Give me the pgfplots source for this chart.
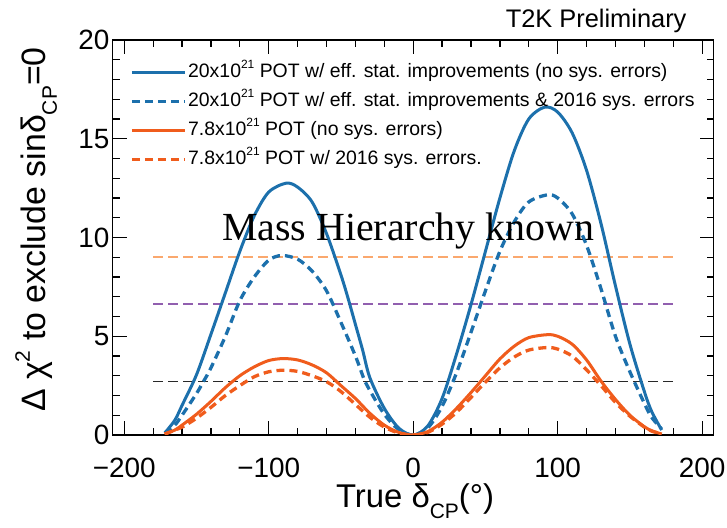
\documentclass[border=0pt]{standalone}
\usepackage{fontspec}
\setmainfont{Liberation Sans}
\newfontfamily\timesfont{Liberation Serif}
\usepackage{pgfplots}
\pgfplotsset{compat=1.18}
\definecolor{tblue}{RGB}{28,112,172}
\definecolor{torange}{RGB}{240,92,28}
\definecolor{lorange}{RGB}{250,168,110}
\definecolor{tpurple}{RGB}{145,95,175}
\definecolor{tgray}{RGB}{40,40,40}
\begin{document}
\begin{tikzpicture}
\path[use as bounding box] (0,0) rectangle (727bp,528bp);
\begin{axis}[
  at={(112.7bp,93bp)}, anchor=south west,
  scale only axis, width=601bp, height=395bp,
  xmin=-208, xmax=208, ymin=0, ymax=20,
  xtick={-200,-100,0,100,200},
  xticklabels={−200,−100,0,100,200},
  ytick={0,5,10,15,20},
  minor x tick num=4, minor y tick num=4,
  tick align=inside, tick pos=both,
  major tick length=14bp, minor tick length=7bp,
  axis line style={line width=1.3bp},
  every tick/.style={black, line width=1.3bp},
  /pgf/number format/assume math mode=true,
  tick label style={font=\fontsize{28}{28}\selectfont},
  xticklabel style={inner sep=2bp, yshift=-21bp},
  yticklabel style={inner sep=3bp},
  xlabel={True δ\raisebox{-0.35em}{\fontsize{21}{21}\selectfont CP}(°)},
  xlabel style={at={(axis description cs:0.503,-0.183)}, anchor=base, font=\fontsize{33}{33}\selectfont},
  ylabel={Δ χ\raisebox{0.45em}{\fontsize{21}{21}\selectfont 2} to exclude sinδ\raisebox{-0.35em}{\fontsize{21}{21}\selectfont CP}=0},
  ylabel style={at={(axis description cs:-0.1126,0.52)}, anchor=base, font=\fontsize{34}{34}\selectfont},
  legend style={at={(axis description cs:0.029,0.947)}, anchor=north west, draw=none, fill=none,
    font=\fontsize{19.5}{20}\selectfont, row sep=6bp, inner sep=0pt,
    nodes={inner sep=1.5bp, text height=15bp, text depth=5bp}},
  legend cell align=left,
  legend image code/.code={\draw[#1] (0bp,0bp) -- (53bp,0bp);},
]
% reference lines
\addplot[forget plot, lorange, line width=1.6bp, dash pattern=on 10bp off 5bp] coordinates {(-180,9.0) (180,9.0)};
\addplot[forget plot, tpurple, line width=1.6bp, dash pattern=on 10bp off 5bp] coordinates {(-180,6.63) (180,6.63)};
\addplot[forget plot, tgray, line width=1.6bp, dash pattern=on 10bp off 5bp] coordinates {(-180,2.71) (180,2.71)};

% 20e21 POT, no sys
\addplot[tblue, line width=3bp, smooth] coordinates {
(-172,0.1) (-165,0.75) (-160,1.5) (-150,3.05) (-140,5.1) (-130,7.2) (-120,9.3) (-110,11.1) (-100,12.3) (-88,12.75) (-80,12.55) (-70,11.8) (-60,10.2) (-50,8.1) (-45,6.9) (-40,5.6) (-35,4.3) (-30,2.9) (-20,1.35) (-10,0.35) (0,0)
(10,0.45) (20,1.85) (30,4.1) (40,6.6) (50,9.3) (60,12.0) (70,14.4) (80,16.0) (91,16.6) (100,16.35) (110,15.3) (120,13.4) (130,10.7) (140,7.55) (150,4.6) (160,2.2) (165,1.2) (172,0.25)
};
\addlegendentry{20x10\raisebox{0.45em}{\fontsize{12}{12}\selectfont 21} POT w/ eff. stat. improvements (no sys. errors)}

% 20e21 POT, 2016 sys
\addplot[tblue, line width=3.3bp, smooth, dash pattern=on 8bp off 5bp] coordinates {
(-172,0.1) (-165,0.5) (-160,1.0) (-150,2.1) (-145,2.73) (-140,3.4) (-130,5.0) (-120,6.8) (-110,8.0) (-100,8.85) (-91,9.09) (-80,8.9) (-70,8.3) (-60,7.3) (-50,5.7) (-40,4.0) (-33.5,2.73) (-30,2.25) (-20,1.05) (-10,0.27) (0,0)
(10,0.35) (20,1.45) (30,3.15) (40,5.2) (50,7.3) (60,9.3) (70,10.8) (80,11.8) (93,12.16) (100,12.0) (110,11.2) (120,9.6) (130,7.4) (140,5.0) (150,3.2) (160,1.6) (165,0.9) (172,0.3)
};
\addlegendentry{20x10\raisebox{0.45em}{\fontsize{12}{12}\selectfont 21} POT w/ eff. stat. improvements \& 2016 sys. errors}

% 7.8e21 POT, no sys
\addplot[torange, line width=3bp, smooth] coordinates {
(-172,0.05) (-165,0.25) (-160,0.5) (-150,1.05) (-140,1.7) (-130,2.4) (-120,3.0) (-110,3.45) (-100,3.77) (-90,3.87) (-80,3.8) (-70,3.55) (-60,3.15) (-50,2.5) (-40,1.85) (-30,1.1) (-20,0.5) (-10,0.13) (0,0)
(10,0.17) (20,0.65) (30,1.35) (40,2.15) (50,3.0) (60,3.85) (70,4.5) (80,4.93) (93,5.08) (100,5.0) (110,4.6) (120,3.8) (130,2.73) (140,1.8) (150,1.0) (160,0.42) (165,0.22) (172,0.05)
};
\addlegendentry{7.8x10\raisebox{0.45em}{\fontsize{12}{12}\selectfont 21} POT (no sys. errors)}

% 7.8e21 POT, 2016 sys
\addplot[torange, line width=3.3bp, smooth, dash pattern=on 8bp off 5bp] coordinates {
(-172,0.05) (-160,0.4) (-150,0.85) (-140,1.4) (-130,2.0) (-120,2.5) (-110,2.95) (-100,3.2) (-90,3.28) (-80,3.22) (-70,3.0) (-60,2.7) (-50,2.2) (-40,1.55) (-30,0.9) (-20,0.4) (-10,0.1) (0,0)
(10,0.13) (20,0.55) (30,1.15) (40,1.9) (50,2.68) (60,3.4) (70,3.95) (80,4.3) (93,4.43) (100,4.35) (110,4.0) (120,3.3) (130,2.5) (140,1.65) (150,0.95) (160,0.4) (165,0.2) (172,0.05)
};
\addlegendentry{7.8x10\raisebox{0.45em}{\fontsize{12}{12}\selectfont 21} POT w/ 2016 sys. errors.}

\node[anchor=base, font=\timesfont\fontsize{40}{40}\selectfont] at (axis cs:-3.5,9.85) {Mass Hierarchy known};
\end{axis}
\node[anchor=base east, font=\fontsize{25.5}{26}\selectfont] at (690bp,500bp) {T2K Preliminary};
\end{tikzpicture}
\end{document}
